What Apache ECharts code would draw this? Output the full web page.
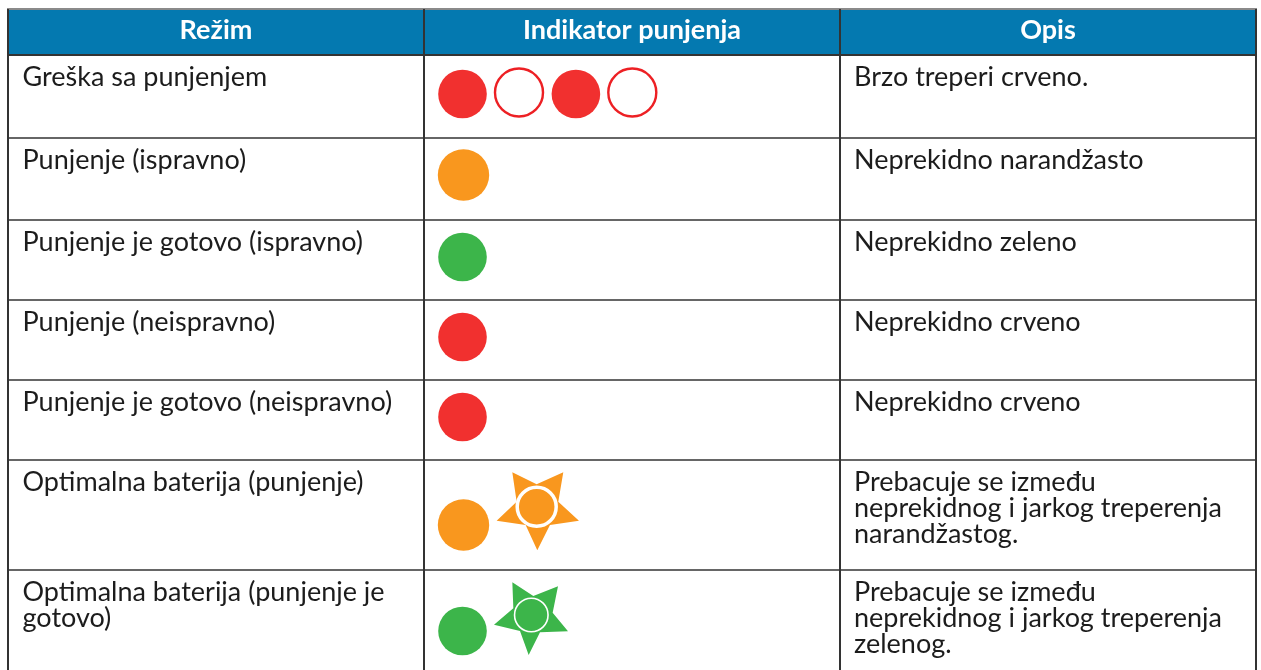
<!DOCTYPE html>
<html><head><meta charset="utf-8">
<style>html,body{margin:0;padding:0;background:#fff}#c{width:1261px;height:670px}</style>
<script src="https://cdn.jsdelivr.net/npm/echarts@6/dist/echarts.min.js"></script>
</head><body><div id="c"></div>
<script>
const headers = ['Režim', 'Indikator punjenja', 'Opis'];
const modes = ['Greška sa punjenjem','Punjenje (ispravno)','Punjenje je gotovo (ispravno)','Punjenje (neispravno)','Punjenje je gotovo (neispravno)','Optimalna baterija (punjenje)','Optimalna baterija (punjenje je\ngotovo)'];
const descriptions = ['Brzo treperi crveno.','Neprekidno narandžasto','Neprekidno zeleno','Neprekidno crveno','Neprekidno crveno','Prebacuje se između\nneprekidnog i jarkog treperenja\nnarandžastog.','Prebacuje se između\nneprekidnog i jarkog treperenja\nzelenog.'];
const indicators = [['red','ring','red','ring'],['orange'],['green'],['red'],['red'],['orange','orangeStar'],['green','greenStar']];

const colEdges = [8, 424, 840, 1256];
const rowEdges = [9, 55, 138, 220, 300, 380, 460, 570, 680];
const iconRowY = [94, 175, 257, 337, 417, 525, 631];
const colors = {red:'#F1302F', orange:'#F9971E', green:'#3CB54A', head:'#0479B0', line:'#333333', text:'#1c1c1c'};
const FONT = 'Lato';
const TEXT_SIZE = 27;
const HEAD_SIZE = 27;

const starPaths = {
  orangeStar:'path://M277 37L350 73L430 37L415 125L477 182L390 195L352 271L317 195L230 182L290 125Z',
  greenStar:'path://M277 367L340 408L414 379L398 458L444 514L360 517L326 585L300 513L222 494L280 445Z'
};

const circles = [], rings = [], stars = [], cores = [];
indicators.forEach((list, i) => {
  const x0 = colEdges[1], y = iconRowY[i];
  list.forEach((k, j) => {
    if (k === 'ring') rings.push([x0 + 95 + (j === 3 ? 113.3 : 0), y - 1.5]);
    else if (k === 'orangeStar') {
      stars.push({value:[537.8, 511.3], symbol:starPaths[k], symbolSize:[82.3,78], itemStyle:{color:colors.orange,opacity:1}});
      cores.push({value:[536.7,506.7], symbolSize:39, itemStyle:{color:colors.orange,borderColor:'#fff',borderWidth:3.5,opacity:1}});
    } else if (k === 'greenStar') {
      stars.push({value:[531, 618.7], symbol:starPaths[k], symbolSize:[74,72.7], itemStyle:{color:colors.green,opacity:1}});
      cores.push({value:[531.3,615], symbolSize:33.5, itemStyle:{color:colors.green,borderColor:'#fff',borderWidth:1.6,opacity:1}});
    } else circles.push({value:[x0 + 38.5 + (j === 2 ? 113.4 : 0) + (k === 'orange' ? 1 : 0), y], symbolSize:k === 'orange' ? 51.4 : 48.6, itemStyle:{color:colors[k],opacity:1}});
  });
});

const cellText = [];
headers.forEach((h, c) => cellText.push({h:true, t:h, x:(colEdges[c] + colEdges[c + 1]) / 2, y:30}));
modes.forEach((t, i) => cellText.push({t, x:colEdges[0] + 14.5, y:rowEdges[i + 1] + 9}));
descriptions.forEach((t, i) => cellText.push({t, x:colEdges[2] + 14, y:rowEdges[i + 1] + 9}));

const chart = echarts.init(document.getElementById('c'), null, {renderer:'canvas'});
chart.setOption({
  animation:false,
  grid:{left:0,right:0,top:0,bottom:0},
  xAxis:{type:'value',min:0,max:1261,show:false},
  yAxis:{type:'value',min:0,max:670,inverse:true,show:false},
  series:[
    {type:'custom',coordinateSystem:'cartesian2d',silent:true,z:1,data:[0],clip:true,
     renderItem(p, api){
       const [hx0,hy0] = api.coord([colEdges[0], rowEdges[0]]);
       const [hx1,hy1] = api.coord([colEdges[3], rowEdges[1]]);
       const kids = [{type:'rect',shape:{x:hx0,y:hy0,width:hx1-hx0,height:hy1-hy0},style:{fill:colors.head}}];
       rowEdges.forEach((y,i)=>{ const a=api.coord([colEdges[0],y]), b=api.coord([colEdges[3],y]);
         kids.push({type:'line',shape:{x1:a[0]-1,y1:a[1],x2:b[0]+1,y2:b[1]},style:{stroke:i===0?'#8a8a8a':colors.line,lineWidth:i===0?2:(i===1?2:1.6)}}); });
       colEdges.forEach(x=>{ const a=api.coord([x,rowEdges[0]]), b=api.coord([x,670]);
         kids.push({type:'line',shape:{x1:a[0],y1:a[1],x2:b[0],y2:b[1]},style:{stroke:colors.line,lineWidth:2}}); });
       return {type:'group',children:kids};
     }},
    {type:'scatter',symbol:'circle',z:3,silent:true,data:circles},
    {type:'scatter',symbol:'circle',z:3,silent:true,symbolSize:48,itemStyle:{color:'#fff',borderColor:'#ED2024',borderWidth:2.4,opacity:1},data:rings},
    {type:'scatter',z:3,silent:true,data:stars},
    {type:'scatter',symbol:'circle',z:4,silent:true,data:cores},
    {type:'custom',coordinateSystem:'cartesian2d',silent:true,z:5,data:cellText.map((_,i)=>i),
     renderItem(p, api){
       const d = cellText[api.value(0)];
       const [x,y] = api.coord([d.x,d.y]);
       return {type:'text',style:{text:d.t,x,y,fill:d.h?'#fff':colors.text,
         font:(d.h?'700 ':'400 ')+(d.h?HEAD_SIZE:TEXT_SIZE)+'px '+FONT,
         lineHeight:26,align:d.h?'center':'left',verticalAlign:d.h?'middle':'top'}};
     }}
  ]
});
</script></body></html>
